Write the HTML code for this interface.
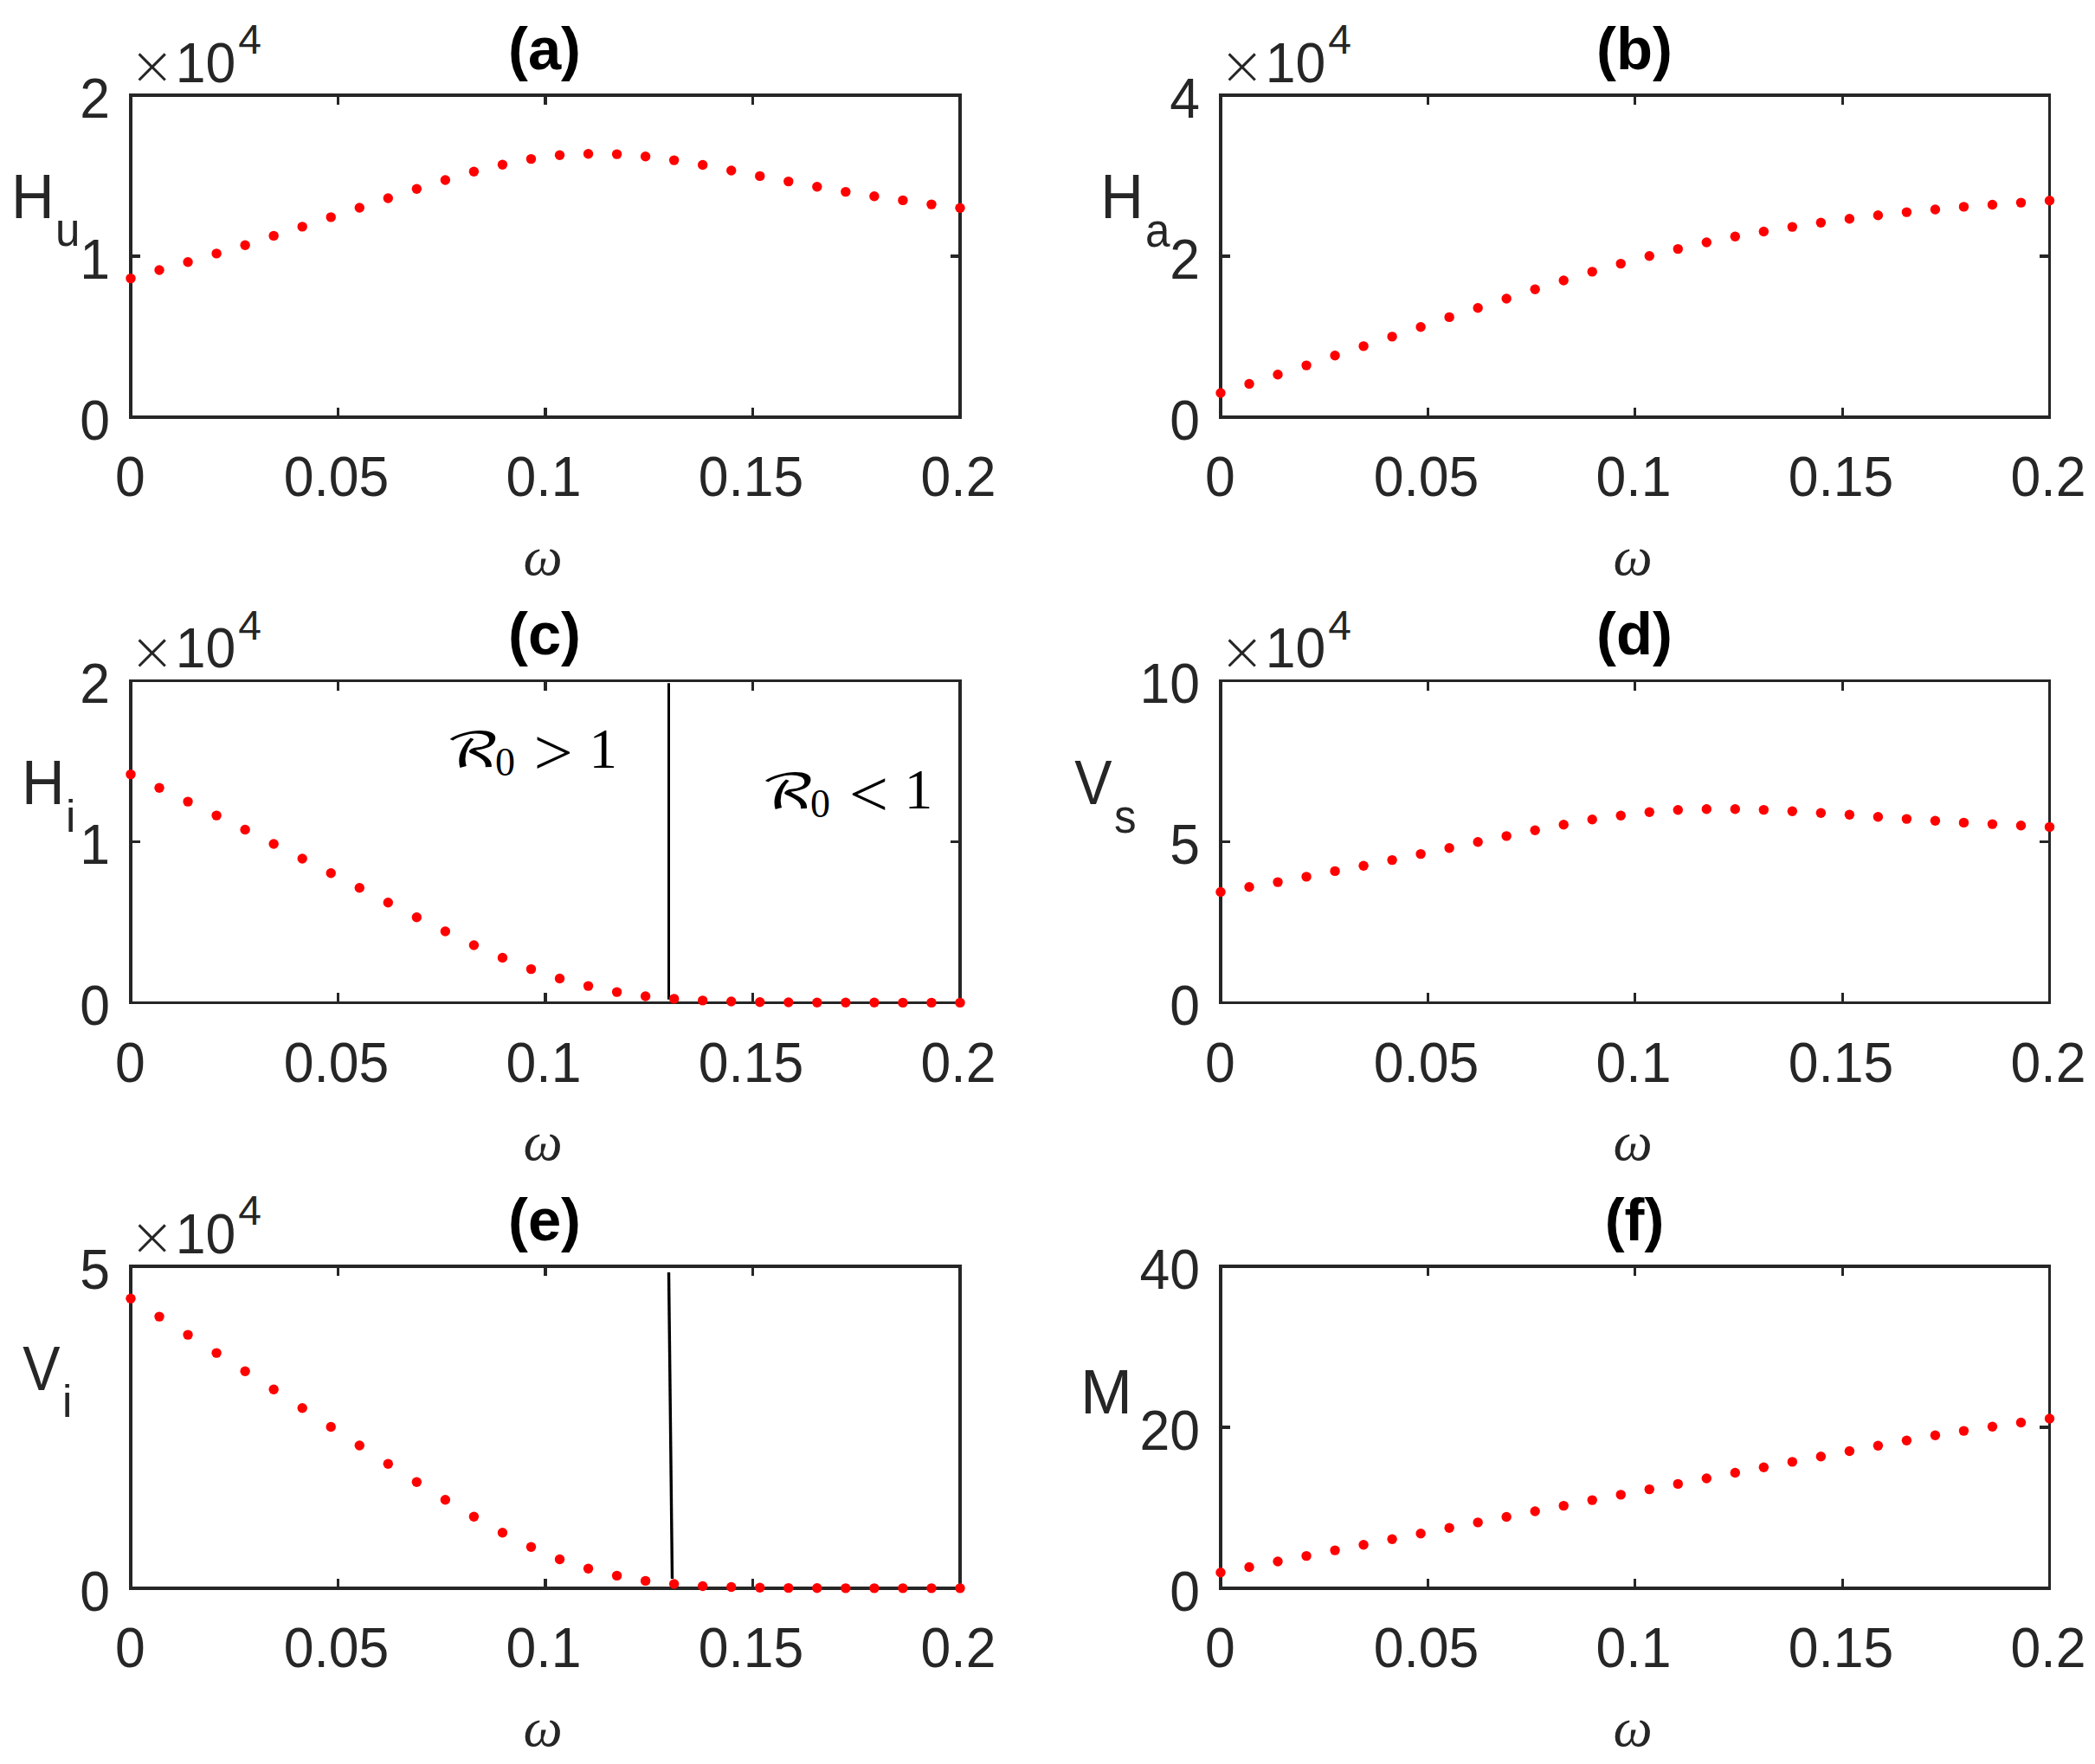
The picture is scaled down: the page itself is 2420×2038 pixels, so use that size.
<!DOCTYPE html>
<html lang="en"><head><meta charset="utf-8"><title>Figure: model outputs versus ω</title>
<style>
html,body{margin:0;padding:0;background:#fff}
body{width:2420px;height:2038px;overflow:hidden}
svg{display:block}
text{font-family:"Liberation Sans",Arial,Helvetica,sans-serif;fill:#262626}
.tk{font-size:62.5px}
.sup{font-size:48px}
.times{font-family:"DejaVu Sans Light","DejaVu Sans ExtraLight","Liberation Serif",serif;font-weight:200;font-size:62.5px}
.ttl{font-size:68.75px;font-weight:bold;fill:#000}
.yl{font-size:72px}
.sub{font-size:55px}
.om{font-family:"Liberation Serif","DejaVu Serif",serif;font-style:italic;font-size:64px}
.ltx,.lsub{font-family:"Liberation Serif","DejaVu Serif",serif;font-size:65px;fill:#000}
.lsub{font-size:46px}
.lop{font-family:"Liberation Serif","DejaVu Serif",serif;font-size:65px;fill:#000}
.cal{font-family:"DejaVu Math TeX Gyre","DejaVu Sans","Liberation Serif",serif;font-size:62px;fill:#000}
</style></head><body>
<svg width="2420" height="2038" viewBox="0 0 2420 2038">
<rect width="2420" height="2038" fill="#fff"/>
<g id="panel-a">
<path d="M149 108H1111V112H149ZM149 480H1111V484H149ZM149 108H153V484H149ZM1107 108H1111V484H1107ZM389 471H392V480H389ZM389 112H392V121H389ZM628 471H632V480H628ZM628 112H632V121H628ZM868 471H871V480H868ZM868 112H871V121H868ZM153 294H162V298H153ZM1098 294H1107V298H1098Z" fill="#262626" shape-rendering="crispEdges"/>
<g fill="#f00"><circle cx="151.00" cy="321.6" r="5.7"/><circle cx="184.03" cy="312.0" r="5.7"/><circle cx="217.07" cy="302.7" r="5.7"/><circle cx="250.10" cy="292.9" r="5.7"/><circle cx="283.14" cy="283.2" r="5.7"/><circle cx="316.17" cy="272.4" r="5.7"/><circle cx="349.21" cy="261.9" r="5.7"/><circle cx="382.24" cy="250.9" r="5.7"/><circle cx="415.28" cy="240.0" r="5.7"/><circle cx="448.31" cy="229.0" r="5.7"/><circle cx="481.34" cy="218.2" r="5.7"/><circle cx="514.38" cy="208.0" r="5.7"/><circle cx="547.41" cy="198.2" r="5.7"/><circle cx="580.45" cy="190.3" r="5.7"/><circle cx="613.48" cy="183.6" r="5.7"/><circle cx="646.52" cy="179.3" r="5.7"/><circle cx="679.55" cy="177.7" r="5.7"/><circle cx="712.59" cy="178.1" r="5.7"/><circle cx="745.62" cy="180.8" r="5.7"/><circle cx="778.66" cy="185.1" r="5.7"/><circle cx="811.69" cy="190.5" r="5.7"/><circle cx="844.72" cy="197.0" r="5.7"/><circle cx="877.76" cy="203.4" r="5.7"/><circle cx="910.79" cy="209.6" r="5.7"/><circle cx="943.83" cy="215.8" r="5.7"/><circle cx="976.86" cy="221.6" r="5.7"/><circle cx="1009.90" cy="226.8" r="5.7"/><circle cx="1042.93" cy="231.4" r="5.7"/><circle cx="1075.97" cy="236.1" r="5.7"/><circle cx="1109.00" cy="240.2" r="5.7"/></g>
<text class="tk" text-anchor="middle" transform="translate(150.50 573.00) scale(1.0 1.03)">0</text>
<text class="tk" text-anchor="middle" transform="translate(388.50 573.00) scale(1.0 1.03)">0.05</text>
<text class="tk" text-anchor="middle" transform="translate(628.00 573.00) scale(1.0 1.03)">0.1</text>
<text class="tk" text-anchor="middle" transform="translate(867.50 573.00) scale(1.0 1.03)">0.15</text>
<text class="tk" text-anchor="middle" transform="translate(1107.00 573.00) scale(1.0 1.03)">0.2</text>
<text class="tk" text-anchor="end" transform="translate(127.00 507.90) scale(1.0 1.03)">0</text>
<text class="tk" text-anchor="end" transform="translate(127.00 321.90) scale(1.0 1.03)">1</text>
<text class="tk" text-anchor="end" transform="translate(127.00 135.90) scale(1.0 1.03)">2</text>
<text class="times" x="149.50" y="97.00">×</text>
<text class="tk" transform="translate(202.80 94.70) scale(1.0 1.03)">10</text>
<text class="sup" x="275.30" y="62.00">4</text>
<text class="ttl" text-anchor="middle" x="629.00" y="79.50">(a)</text>
<text class="om" text-anchor="middle" x="627.00" y="663.50">ω</text>
<text class="yl" transform="translate(13.10 252.00) scale(0.955 1.0)">H</text>
<text class="sub" transform="translate(64.00 284.40) scale(0.93 1.0)">u</text>
</g>
<g id="panel-b">
<path d="M1408 108H2369V112H1408ZM1408 480H2369V484H1408ZM1408 108H1412V484H1408ZM2366 108H2369V484H2366ZM1648 471H1651V480H1648ZM1648 112H1651V121H1648ZM1887 471H1890V480H1887ZM1887 112H1890V121H1887ZM2127 471H2130V480H2127ZM2127 112H2130V121H2127ZM1412 294H1421V298H1412ZM2356 294H2366V298H2356Z" fill="#262626" shape-rendering="crispEdges"/>
<g fill="#f00"><circle cx="1410.00" cy="454.0" r="5.7"/><circle cx="1443.02" cy="443.5" r="5.7"/><circle cx="1476.03" cy="432.8" r="5.7"/><circle cx="1509.05" cy="422.1" r="5.7"/><circle cx="1542.07" cy="410.8" r="5.7"/><circle cx="1575.09" cy="399.9" r="5.7"/><circle cx="1608.10" cy="388.9" r="5.7"/><circle cx="1641.12" cy="377.7" r="5.7"/><circle cx="1674.14" cy="366.4" r="5.7"/><circle cx="1707.16" cy="355.7" r="5.7"/><circle cx="1740.17" cy="345.0" r="5.7"/><circle cx="1773.19" cy="334.2" r="5.7"/><circle cx="1806.21" cy="324.0" r="5.7"/><circle cx="1839.22" cy="313.9" r="5.7"/><circle cx="1872.24" cy="304.6" r="5.7"/><circle cx="1905.26" cy="295.7" r="5.7"/><circle cx="1938.28" cy="287.6" r="5.7"/><circle cx="1971.29" cy="280.0" r="5.7"/><circle cx="2004.31" cy="273.3" r="5.7"/><circle cx="2037.33" cy="267.5" r="5.7"/><circle cx="2070.34" cy="262.1" r="5.7"/><circle cx="2103.36" cy="257.3" r="5.7"/><circle cx="2136.38" cy="252.7" r="5.7"/><circle cx="2169.40" cy="248.7" r="5.7"/><circle cx="2202.41" cy="245.1" r="5.7"/><circle cx="2235.43" cy="242.0" r="5.7"/><circle cx="2268.45" cy="238.9" r="5.7"/><circle cx="2301.47" cy="236.5" r="5.7"/><circle cx="2334.48" cy="234.1" r="5.7"/><circle cx="2367.50" cy="231.7" r="5.7"/></g>
<text class="tk" text-anchor="middle" transform="translate(1409.50 573.00) scale(1.0 1.03)">0</text>
<text class="tk" text-anchor="middle" transform="translate(1647.50 573.00) scale(1.0 1.03)">0.05</text>
<text class="tk" text-anchor="middle" transform="translate(1887.00 573.00) scale(1.0 1.03)">0.1</text>
<text class="tk" text-anchor="middle" transform="translate(2126.50 573.00) scale(1.0 1.03)">0.15</text>
<text class="tk" text-anchor="middle" transform="translate(2366.00 573.00) scale(1.0 1.03)">0.2</text>
<text class="tk" text-anchor="end" transform="translate(1386.00 507.90) scale(1.0 1.03)">0</text>
<text class="tk" text-anchor="end" transform="translate(1386.00 321.90) scale(1.0 1.03)">2</text>
<text class="tk" text-anchor="end" transform="translate(1386.00 135.90) scale(1.0 1.03)">4</text>
<text class="times" x="1408.50" y="97.00">×</text>
<text class="tk" transform="translate(1461.80 94.70) scale(1.0 1.03)">10</text>
<text class="sup" x="1534.30" y="62.00">4</text>
<text class="ttl" text-anchor="middle" x="1888.00" y="79.50">(b)</text>
<text class="om" text-anchor="middle" x="1886.00" y="663.50">ω</text>
<text class="yl" transform="translate(1271.30 252.00) scale(0.955 1.0)">H</text>
<text class="sub" transform="translate(1323.00 285.00) scale(0.93 1.0)">a</text>
</g>
<g id="panel-c">
<path d="M771 789.2H774V1154.8H771Z" fill="#000"/>
<path d="M149 785H1111V788H149ZM149 1157H1111V1160H149ZM149 785H153V1160H149ZM1107 785H1111V1160H1107ZM389 1147H392V1157H389ZM389 788H392V798H389ZM628 1147H632V1157H628ZM628 788H632V798H628ZM868 1147H871V1157H868ZM868 788H871V798H868ZM153 971H162V974H153ZM1098 971H1107V974H1098Z" fill="#262626" shape-rendering="crispEdges"/>
<g fill="#f00"><circle cx="151.00" cy="894.6" r="5.7"/><circle cx="184.03" cy="910.3" r="5.7"/><circle cx="217.07" cy="926.1" r="5.7"/><circle cx="250.10" cy="942.1" r="5.7"/><circle cx="283.14" cy="958.5" r="5.7"/><circle cx="316.17" cy="975.0" r="5.7"/><circle cx="349.21" cy="992.0" r="5.7"/><circle cx="382.24" cy="1008.7" r="5.7"/><circle cx="415.28" cy="1025.8" r="5.7"/><circle cx="448.31" cy="1042.8" r="5.7"/><circle cx="481.34" cy="1059.7" r="5.7"/><circle cx="514.38" cy="1076.0" r="5.7"/><circle cx="547.41" cy="1092.0" r="5.7"/><circle cx="580.45" cy="1106.5" r="5.7"/><circle cx="613.48" cy="1119.6" r="5.7"/><circle cx="646.52" cy="1130.5" r="5.7"/><circle cx="679.55" cy="1139.1" r="5.7"/><circle cx="712.59" cy="1146.1" r="5.7"/><circle cx="745.62" cy="1151.0" r="5.7"/><circle cx="778.66" cy="1153.9" r="5.7"/><circle cx="811.69" cy="1155.9" r="5.7"/><circle cx="844.72" cy="1157.0" r="5.7"/><circle cx="877.76" cy="1157.8" r="5.7"/><circle cx="910.79" cy="1158.0" r="5.7"/><circle cx="943.83" cy="1158.2" r="5.7"/><circle cx="976.86" cy="1158.3" r="5.7"/><circle cx="1009.90" cy="1158.3" r="5.7"/><circle cx="1042.93" cy="1158.4" r="5.7"/><circle cx="1075.97" cy="1158.4" r="5.7"/><circle cx="1109.00" cy="1158.4" r="5.7"/></g>
<text class="tk" text-anchor="middle" transform="translate(150.50 1249.50) scale(1.0 1.03)">0</text>
<text class="tk" text-anchor="middle" transform="translate(388.50 1249.50) scale(1.0 1.03)">0.05</text>
<text class="tk" text-anchor="middle" transform="translate(628.00 1249.50) scale(1.0 1.03)">0.1</text>
<text class="tk" text-anchor="middle" transform="translate(867.50 1249.50) scale(1.0 1.03)">0.15</text>
<text class="tk" text-anchor="middle" transform="translate(1107.00 1249.50) scale(1.0 1.03)">0.2</text>
<text class="tk" text-anchor="end" transform="translate(127.00 1184.40) scale(1.0 1.03)">0</text>
<text class="tk" text-anchor="end" transform="translate(127.00 998.40) scale(1.0 1.03)">1</text>
<text class="tk" text-anchor="end" transform="translate(127.00 812.40) scale(1.0 1.03)">2</text>
<text class="times" x="149.50" y="773.50">×</text>
<text class="tk" transform="translate(202.80 771.20) scale(1.0 1.03)">10</text>
<text class="sup" x="275.30" y="738.50">4</text>
<text class="ttl" text-anchor="middle" x="629.00" y="756.00">(c)</text>
<text class="om" text-anchor="middle" x="627.00" y="1340.00">ω</text>
<text class="yl" transform="translate(25.10 928.70) scale(0.955 1.0)">H</text>
<text class="sub" transform="translate(76.00 960.60) scale(0.93 0.945)">i</text>
</g>
<g id="panel-d">
<path d="M1408 785H2369V788H1408ZM1408 1157H2369V1160H1408ZM1408 785H1412V1160H1408ZM2366 785H2369V1160H2366ZM1648 1147H1651V1157H1648ZM1648 788H1651V798H1648ZM1887 1147H1890V1157H1887ZM1887 788H1890V798H1887ZM2127 1147H2130V1157H2127ZM2127 788H2130V798H2127ZM1412 971H1421V974H1412ZM2356 971H2366V974H2356Z" fill="#262626" shape-rendering="crispEdges"/>
<g fill="#f00"><circle cx="1410.00" cy="1030.5" r="5.7"/><circle cx="1443.02" cy="1024.8" r="5.7"/><circle cx="1476.03" cy="1019.1" r="5.7"/><circle cx="1509.05" cy="1012.9" r="5.7"/><circle cx="1542.07" cy="1006.4" r="5.7"/><circle cx="1575.09" cy="1000.2" r="5.7"/><circle cx="1608.10" cy="993.6" r="5.7"/><circle cx="1641.12" cy="986.6" r="5.7"/><circle cx="1674.14" cy="979.7" r="5.7"/><circle cx="1707.16" cy="972.8" r="5.7"/><circle cx="1740.17" cy="965.9" r="5.7"/><circle cx="1773.19" cy="959.2" r="5.7"/><circle cx="1806.21" cy="952.7" r="5.7"/><circle cx="1839.22" cy="946.8" r="5.7"/><circle cx="1872.24" cy="942.2" r="5.7"/><circle cx="1905.26" cy="938.2" r="5.7"/><circle cx="1938.28" cy="935.8" r="5.7"/><circle cx="1971.29" cy="934.7" r="5.7"/><circle cx="2004.31" cy="934.7" r="5.7"/><circle cx="2037.33" cy="935.6" r="5.7"/><circle cx="2070.34" cy="937.3" r="5.7"/><circle cx="2103.36" cy="939.2" r="5.7"/><circle cx="2136.38" cy="941.3" r="5.7"/><circle cx="2169.40" cy="943.7" r="5.7"/><circle cx="2202.41" cy="946.1" r="5.7"/><circle cx="2235.43" cy="948.3" r="5.7"/><circle cx="2268.45" cy="950.4" r="5.7"/><circle cx="2301.47" cy="952.1" r="5.7"/><circle cx="2334.48" cy="953.7" r="5.7"/><circle cx="2367.50" cy="955.4" r="5.7"/></g>
<text class="tk" text-anchor="middle" transform="translate(1409.50 1249.50) scale(1.0 1.03)">0</text>
<text class="tk" text-anchor="middle" transform="translate(1647.50 1249.50) scale(1.0 1.03)">0.05</text>
<text class="tk" text-anchor="middle" transform="translate(1887.00 1249.50) scale(1.0 1.03)">0.1</text>
<text class="tk" text-anchor="middle" transform="translate(2126.50 1249.50) scale(1.0 1.03)">0.15</text>
<text class="tk" text-anchor="middle" transform="translate(2366.00 1249.50) scale(1.0 1.03)">0.2</text>
<text class="tk" text-anchor="end" transform="translate(1386.00 1184.40) scale(1.0 1.03)">0</text>
<text class="tk" text-anchor="end" transform="translate(1386.00 998.40) scale(1.0 1.03)">5</text>
<text class="tk" text-anchor="end" transform="translate(1386.00 812.40) scale(1.0 1.03)">10</text>
<text class="times" x="1408.50" y="773.50">×</text>
<text class="tk" transform="translate(1461.80 771.20) scale(1.0 1.03)">10</text>
<text class="sup" x="1534.30" y="738.50">4</text>
<text class="ttl" text-anchor="middle" x="1888.00" y="756.00">(d)</text>
<text class="om" text-anchor="middle" x="1886.00" y="1340.00">ω</text>
<text class="yl" transform="translate(1241.30 928.50) scale(0.9 1.0)">V</text>
<text class="sub" transform="translate(1287.00 962.00) scale(0.93 1.0)">s</text>
</g>
<g id="panel-e">
<line x1="772.5" y1="1470" x2="776.5" y2="1824" stroke="#000" stroke-width="3.4"/>
<path d="M149 1461H1111V1465H149ZM149 1833H1111V1837H149ZM149 1461H153V1837H149ZM1107 1461H1111V1837H1107ZM389 1824H392V1833H389ZM389 1465H392V1474H389ZM628 1824H632V1833H628ZM628 1465H632V1474H628ZM868 1824H871V1833H868ZM868 1465H871V1474H868Z" fill="#262626" shape-rendering="crispEdges"/>
<g fill="#f00"><circle cx="151.00" cy="1500.3" r="5.7"/><circle cx="184.03" cy="1521.1" r="5.7"/><circle cx="217.07" cy="1542.1" r="5.7"/><circle cx="250.10" cy="1563.1" r="5.7"/><circle cx="283.14" cy="1584.3" r="5.7"/><circle cx="316.17" cy="1605.3" r="5.7"/><circle cx="349.21" cy="1626.8" r="5.7"/><circle cx="382.24" cy="1648.5" r="5.7"/><circle cx="415.28" cy="1670.0" r="5.7"/><circle cx="448.31" cy="1691.2" r="5.7"/><circle cx="481.34" cy="1712.2" r="5.7"/><circle cx="514.38" cy="1732.7" r="5.7"/><circle cx="547.41" cy="1752.3" r="5.7"/><circle cx="580.45" cy="1770.7" r="5.7"/><circle cx="613.48" cy="1787.2" r="5.7"/><circle cx="646.52" cy="1801.5" r="5.7"/><circle cx="679.55" cy="1812.3" r="5.7"/><circle cx="712.59" cy="1820.4" r="5.7"/><circle cx="745.62" cy="1826.4" r="5.7"/><circle cx="778.66" cy="1830.0" r="5.7"/><circle cx="811.69" cy="1832.5" r="5.7"/><circle cx="844.72" cy="1833.5" r="5.7"/><circle cx="877.76" cy="1834.2" r="5.7"/><circle cx="910.79" cy="1834.6" r="5.7"/><circle cx="943.83" cy="1834.8" r="5.7"/><circle cx="976.86" cy="1834.9" r="5.7"/><circle cx="1009.90" cy="1834.9" r="5.7"/><circle cx="1042.93" cy="1834.9" r="5.7"/><circle cx="1075.97" cy="1834.9" r="5.7"/><circle cx="1109.00" cy="1834.9" r="5.7"/></g>
<text class="tk" text-anchor="middle" transform="translate(150.50 1926.00) scale(1.0 1.03)">0</text>
<text class="tk" text-anchor="middle" transform="translate(388.50 1926.00) scale(1.0 1.03)">0.05</text>
<text class="tk" text-anchor="middle" transform="translate(628.00 1926.00) scale(1.0 1.03)">0.1</text>
<text class="tk" text-anchor="middle" transform="translate(867.50 1926.00) scale(1.0 1.03)">0.15</text>
<text class="tk" text-anchor="middle" transform="translate(1107.00 1926.00) scale(1.0 1.03)">0.2</text>
<text class="tk" text-anchor="end" transform="translate(127.00 1860.90) scale(1.0 1.03)">0</text>
<text class="tk" text-anchor="end" transform="translate(127.00 1488.90) scale(1.0 1.03)">5</text>
<text class="times" x="149.50" y="1450.00">×</text>
<text class="tk" transform="translate(202.80 1447.70) scale(1.0 1.03)">10</text>
<text class="sup" x="275.30" y="1415.00">4</text>
<text class="ttl" text-anchor="middle" x="629.00" y="1432.50">(e)</text>
<text class="om" text-anchor="middle" x="627.00" y="2016.50">ω</text>
<text class="yl" transform="translate(26.30 1605.90) scale(0.9 1.0)">V</text>
<text class="sub" transform="translate(72.00 1636.80) scale(0.93 0.945)">i</text>
</g>
<g id="panel-f">
<path d="M1408 1461H2369V1465H1408ZM1408 1833H2369V1837H1408ZM1408 1461H1412V1837H1408ZM2366 1461H2369V1837H2366ZM1648 1824H1651V1833H1648ZM1648 1465H1651V1474H1648ZM1887 1824H1890V1833H1887ZM1887 1465H1890V1474H1887ZM2127 1824H2130V1833H2127ZM2127 1465H2130V1474H2127ZM1412 1647H1421V1651H1412ZM2356 1647H2366V1651H2356Z" fill="#262626" shape-rendering="crispEdges"/>
<g fill="#f00"><circle cx="1410.00" cy="1816.7" r="5.7"/><circle cx="1443.02" cy="1810.5" r="5.7"/><circle cx="1476.03" cy="1804.0" r="5.7"/><circle cx="1509.05" cy="1797.6" r="5.7"/><circle cx="1542.07" cy="1791.1" r="5.7"/><circle cx="1575.09" cy="1784.7" r="5.7"/><circle cx="1608.10" cy="1778.2" r="5.7"/><circle cx="1641.12" cy="1771.8" r="5.7"/><circle cx="1674.14" cy="1765.3" r="5.7"/><circle cx="1707.16" cy="1758.9" r="5.7"/><circle cx="1740.17" cy="1752.5" r="5.7"/><circle cx="1773.19" cy="1746.0" r="5.7"/><circle cx="1806.21" cy="1739.6" r="5.7"/><circle cx="1839.22" cy="1733.1" r="5.7"/><circle cx="1872.24" cy="1726.9" r="5.7"/><circle cx="1905.26" cy="1720.6" r="5.7"/><circle cx="1938.28" cy="1714.4" r="5.7"/><circle cx="1971.29" cy="1708.0" r="5.7"/><circle cx="2004.31" cy="1701.5" r="5.7"/><circle cx="2037.33" cy="1695.3" r="5.7"/><circle cx="2070.34" cy="1688.9" r="5.7"/><circle cx="2103.36" cy="1682.7" r="5.7"/><circle cx="2136.38" cy="1676.5" r="5.7"/><circle cx="2169.40" cy="1670.3" r="5.7"/><circle cx="2202.41" cy="1664.3" r="5.7"/><circle cx="2235.43" cy="1658.3" r="5.7"/><circle cx="2268.45" cy="1653.1" r="5.7"/><circle cx="2301.47" cy="1648.3" r="5.7"/><circle cx="2334.48" cy="1643.5" r="5.7"/><circle cx="2367.50" cy="1639.0" r="5.7"/></g>
<text class="tk" text-anchor="middle" transform="translate(1409.50 1926.00) scale(1.0 1.03)">0</text>
<text class="tk" text-anchor="middle" transform="translate(1647.50 1926.00) scale(1.0 1.03)">0.05</text>
<text class="tk" text-anchor="middle" transform="translate(1887.00 1926.00) scale(1.0 1.03)">0.1</text>
<text class="tk" text-anchor="middle" transform="translate(2126.50 1926.00) scale(1.0 1.03)">0.15</text>
<text class="tk" text-anchor="middle" transform="translate(2366.00 1926.00) scale(1.0 1.03)">0.2</text>
<text class="tk" text-anchor="end" transform="translate(1386.00 1860.90) scale(1.0 1.03)">0</text>
<text class="tk" text-anchor="end" transform="translate(1386.00 1674.90) scale(1.0 1.03)">20</text>
<text class="tk" text-anchor="end" transform="translate(1386.00 1488.90) scale(1.0 1.03)">40</text>
<text class="ttl" text-anchor="middle" x="1888.00" y="1432.50">(f)</text>
<text class="om" text-anchor="middle" x="1886.00" y="2016.50">ω</text>
<text class="yl" x="1248.00" y="1633.00">M</text>
</g>
<text class="cal" transform="translate(513.50 885.70) scale(1.24 0.885)">ℛ</text><text class="lsub" x="571.90" y="895.80">0</text><text class="lop" transform="translate(616.50 895.00) scale(1.24 1.17)">&gt;</text><text class="ltx" x="680.60" y="886.50">1</text>
<text class="cal" transform="translate(877.70 933.60) scale(1.24 0.885)">ℛ</text><text class="lsub" x="936.10" y="943.70">0</text><text class="lop" transform="translate(980.70 942.90) scale(1.24 1.17)">&lt;</text><text class="ltx" x="1044.80" y="934.40">1</text>
</svg>
</body></html>
